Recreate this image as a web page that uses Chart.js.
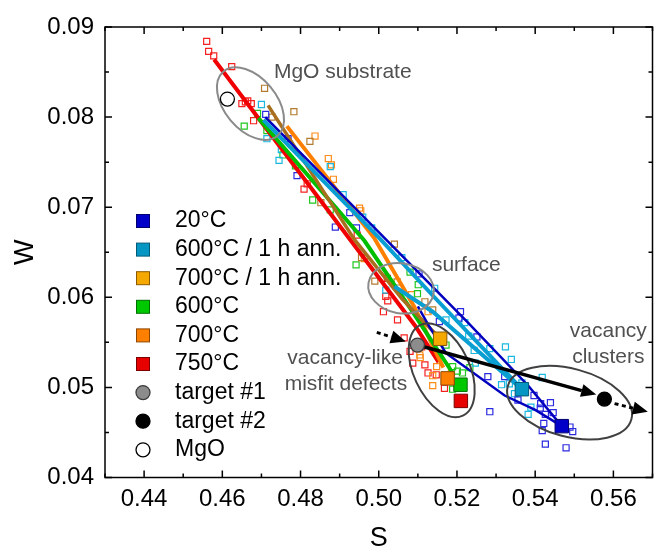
<!DOCTYPE html>
<html>
<head>
<meta charset="utf-8">
<script src="https://cdn.jsdelivr.net/npm/chart.js@4.4.1/dist/chart.umd.min.js"></script>
<style>
    body { margin: 0; background: #fff; }
    #wrap { width: 663px; height: 552px; }
</style>
</head>
<body>
<div id="wrap"><canvas id="swChart" width="663" height="552"></canvas></div>
<script>
// series names (legend order)
var seriesNames = ['20°C', '600°C / 1 h ann.', '700°C / 1 h ann.', '600°C', '700°C', '750°C'];

// single measurements, S and W
var pS_20 = [0.4711, 0.4768, 0.4791, 0.4889, 0.4926, 0.4943, 0.5103, 0.5155, 0.5209, 0.5205, 0.5251, 0.5279, 0.5322, 0.5284, 0.5356, 0.5397, 0.5414, 0.5439, 0.5426, 0.5446, 0.5422, 0.5418, 0.5426, 0.5479, 0.5489, 0.5496, 0.5413];
var pW_20 = [0.0803, 0.0776, 0.0735, 0.0678, 0.0694, 0.0677, 0.0626, 0.0573, 0.0584, 0.0577, 0.0556, 0.0512, 0.0512, 0.0473, 0.0486, 0.0491, 0.0482, 0.0483, 0.0470, 0.0472, 0.0460, 0.0452, 0.0437, 0.0433, 0.0456, 0.0451, 0.0477];

var pS_600a = [0.4700, 0.4714, 0.4745, 0.4751, 0.4876, 0.4909, 0.4959, 0.4982, 0.5018, 0.5059, 0.5143, 0.5172, 0.5220, 0.5230, 0.5244, 0.5247, 0.5284, 0.5324, 0.5339, 0.5314, 0.5334, 0.5347, 0.5366, 0.5382, 0.5389, 0.5418];
var pW_600a = [0.0814, 0.0776, 0.0752, 0.0764, 0.0745, 0.0714, 0.0689, 0.0677, 0.0608, 0.0644, 0.0610, 0.0575, 0.0572, 0.0557, 0.0541, 0.0527, 0.0543, 0.0545, 0.0531, 0.0503, 0.0504, 0.0493, 0.0505, 0.0470, 0.0478, 0.0511];

var pS_700a = [0.4708, 0.4727, 0.4783, 0.4824, 0.4852, 0.4956, 0.4990, 0.5040, 0.5047, 0.5118, 0.5138];
var pW_700a = [0.0832, 0.0800, 0.0806, 0.0773, 0.0705, 0.0644, 0.0618, 0.0659, 0.0617, 0.0595, 0.0586];

var pS_600 = [0.4656, 0.4690, 0.4714, 0.4755, 0.4787, 0.4831, 0.4876, 0.4942, 0.5080, 0.5101, 0.5099, 0.5172, 0.5189, 0.5201, 0.5214, 0.5233, 0.5189];
var pW_600 = [0.0790, 0.0804, 0.0785, 0.0758, 0.0746, 0.0708, 0.0697, 0.0636, 0.0628, 0.0614, 0.0604, 0.0547, 0.0523, 0.0518, 0.0516, 0.0522, 0.0498];

var pS_700 = [0.4837, 0.4871, 0.4879, 0.4884, 0.4951, 0.4954, 0.4963, 0.5084, 0.5126, 0.5101, 0.5106, 0.5138, 0.5138, 0.5148, 0.5186, 0.5105];
var pW_700 = [0.0779, 0.0754, 0.0747, 0.0731, 0.0699, 0.0696, 0.0643, 0.0603, 0.0584, 0.0543, 0.0533, 0.0513, 0.0502, 0.0523, 0.0516, 0.0536];

var pS_750 = [0.4560, 0.4565, 0.4578, 0.4624, 0.4650, 0.4659, 0.4665, 0.4674, 0.4680, 0.4809, 0.4817, 0.4945, 0.5022, 0.5018, 0.5023, 0.5012, 0.5048, 0.5065, 0.5080, 0.5087, 0.5118, 0.5126, 0.5147, 0.5168, 0.5110];
var pW_750 = [0.0884, 0.0873, 0.0868, 0.0856, 0.0815, 0.0817, 0.0818, 0.0815, 0.0796, 0.0720, 0.0726, 0.0669, 0.0621, 0.0601, 0.0596, 0.0584, 0.0575, 0.0555, 0.0540, 0.0527, 0.0525, 0.0516, 0.0514, 0.0499, 0.0545];

// trend curves (null = break between two branches)
var fS_20 = [0.4710, 0.5230, 0.5384, 0.5468, null, 0.5100, 0.5130, 0.5172, 0.5322, 0.5400, 0.5468];
var fW_20 = [0.0800, 0.0571, 0.0501, 0.0457, null, 0.0590, 0.0567, 0.0538, 0.0491, 0.0475, 0.0457];
var fS_600a = [0.4705, 0.5001, 0.5138, 0.5366, null, 0.5040, 0.5138, 0.5366];
var fW_600a = [0.0797, 0.0666, 0.0602, 0.0498, null, 0.0612, 0.0584, 0.0498];
var fS_700a = [0.4717, 0.4938, 0.5060, 0.5157];
var fW_700a = [0.0813, 0.0664, 0.0598, 0.0554];
var fS_600 = [0.4692, 0.4963, 0.5085, 0.5189];
var fW_600 = [0.0799, 0.0663, 0.0585, 0.0516];
var fS_700 = [0.4765, 0.4988, 0.5090, 0.5165];
var fW_700 = [0.0790, 0.0666, 0.0590, 0.0522];
var fS_750 = [0.4579, 0.5092, 0.5153];
var fW_750 = [0.0864, 0.0569, 0.0528];

// bulk values (big squares), same order as seriesNames
var bulkS = [0.5468, 0.5366, 0.5157, 0.5209, 0.5176, 0.5210];
var bulkW = [0.0457, 0.0498, 0.0554, 0.0503, 0.0510, 0.0485];

// target #1, target #2, MgO
var markNames = ['target #1', 'target #2', 'MgO'];
var markS = [0.5099, 0.5577, 0.4613];
var markW = [0.0547, 0.0487, 0.0820];

var xTicks = [0.44, 0.46, 0.48, 0.50, 0.52, 0.54, 0.56];
var yTicks = [0.04, 0.05, 0.06, 0.07, 0.08, 0.09];

var fillColors = ['#0000c8', '#0596c3', '#f5a800', '#00c800', '#ff8000', '#e60000'];
var edgeColors = ['#00006e', '#035a78', '#8c5a00', '#006e00', '#8c4600', '#7a0000'];
var pointColors = ['#2a2ae0', '#1ab8e0', '#b47a2e', '#1ec81e', '#ff8c1a', '#f52020'];
var lineColors = ['#0000be', '#0a9fd2', '#a8701e', '#00be00', '#ff8000', '#f00000'];
var lineWidths = [2.5, 4, 3.5, 4, 4, 4];
var markFill = ['#8c8c8c', '#000000', '#ffffff'];
var markEdge = ['#3c3c3c', '#000000', '#000000'];

var FONT = '"Liberation Sans", Arial, sans-serif';

function toPts(sv, wv) {
    return sv.map(function (s, i) {
        return s === null ? { x: null, y: null } : { x: s, y: wv[i] };
    });
}

var ptS = [pS_20, pS_600a, pS_700a, pS_600, pS_700, pS_750];
var ptW = [pW_20, pW_600a, pW_700a, pW_600, pW_700, pW_750];
var fitS = [fS_20, fS_600a, fS_700a, fS_600, fS_700, fS_750];
var fitW = [fW_20, fW_600a, fW_700a, fW_600, fW_700, fW_750];

var datasets = [];
datasets.push({
    label: 'bulk', data: toPts(bulkS, bulkW), pointStyle: 'rect', pointRadius: 9.5,
    backgroundColor: fillColors, borderColor: edgeColors, borderWidth: 1, order: 0, onTop: true
});
datasets.push({
    label: 'targets', data: toPts(markS, markW), pointStyle: 'circle', pointRadius: 7,
    backgroundColor: markFill, borderColor: markEdge, borderWidth: 1.3, order: 0, onTop: true
});
for (var i = 0; i < seriesNames.length; i++) {
    datasets.push({
        label: seriesNames[i] + ' fit', data: toPts(fitS[i], fitW[i]), showLine: true,
        pointRadius: 0, borderColor: lineColors[i], borderWidth: lineWidths[i], fill: false, order: 1
    });
    datasets.push({
        label: seriesNames[i], data: toPts(ptS[i], ptW[i]), pointStyle: 'rect', pointRadius: 4.3,
        backgroundColor: 'rgba(255,255,255,0)', borderColor: pointColors[i], borderWidth: 1.2, order: 2
    });
}

// ellipses around regions (centre in data units, radii in px, tilt in degrees)
var rings = [
    { s: 0.4672, w: 0.0815, rx: 42, ry: 26, rot: 50, color: '#8a8a8a' },
    { s: 0.5057, w: 0.0610, rx: 33, ry: 25, rot: 10, color: '#8a8a8a' },
    { s: 0.5161, w: 0.0519, rx: 50, ry: 28, rot: 65, color: '#404040' },
    { s: 0.5488, w: 0.0483, rx: 64, ry: 34, rot: 15, color: '#404040' }
];
var arrows = [
    { from: [0.4995, 0.0561], to: [0.5069, 0.0551], dash: [4, 3.5], width: 3 },
    { from: [0.5099, 0.0547], to: [0.5556, 0.0492], dash: [], width: 3.5 },
    { from: [0.5603, 0.0482], to: [0.5688, 0.0473], dash: [4, 3.5], width: 3 }
];
var notes = [
    { text: 'MgO substrate', s: 0.4908, w: 0.0850 },
    { text: 'surface', s: 0.5224, w: 0.0636 },
    { text: 'vacancy-like', s: 0.4914, w: 0.0532 },
    { text: 'misfit defects', s: 0.4916, w: 0.0504 },
    { text: 'vacancy', s: 0.5587, w: 0.0562 },
    { text: 'clusters', s: 0.5587, w: 0.0533 }
];

function drawArrow(ctx, x1, y1, x2, y2, dash, width) {
    var ang = Math.atan2(y2 - y1, x2 - x1);
    var head = 15, half = 6.5;
    var bx = x2 - head * Math.cos(ang), by = y2 - head * Math.sin(ang);
    ctx.lineWidth = width;
    ctx.setLineDash(dash);
    ctx.beginPath();
    ctx.moveTo(x1, y1);
    ctx.lineTo(bx, by);
    ctx.stroke();
    ctx.setLineDash([]);
    ctx.beginPath();
    ctx.moveTo(x2, y2);
    ctx.lineTo(bx + half * Math.sin(ang), by - half * Math.cos(ang));
    ctx.lineTo(bx - half * Math.sin(ang), by + half * Math.cos(ang));
    ctx.closePath();
    ctx.fill();
}

function drawOverlays(chart) {
    var ctx = chart.ctx, xs = chart.scales.x, ys = chart.scales.y;
    ctx.save();
    rings.forEach(function (r) {
        ctx.strokeStyle = r.color;
        ctx.lineWidth = 2;
        ctx.beginPath();
        ctx.ellipse(xs.getPixelForValue(r.s), ys.getPixelForValue(r.w), r.rx, r.ry, r.rot * Math.PI / 180, 0, Math.PI * 2);
        ctx.stroke();
    });
    ctx.strokeStyle = '#000';
    ctx.fillStyle = '#000';
    arrows.forEach(function (a) {
        drawArrow(ctx, xs.getPixelForValue(a.from[0]), ys.getPixelForValue(a.from[1]),
            xs.getPixelForValue(a.to[0]), ys.getPixelForValue(a.to[1]), a.dash, a.width);
    });
    ctx.fillStyle = '#505050';
    ctx.font = '21px ' + FONT;
    ctx.textAlign = 'center';
    ctx.textBaseline = 'middle';
    notes.forEach(function (n) {
        ctx.fillText(n.text, xs.getPixelForValue(n.s), ys.getPixelForValue(n.w));
    });
    ctx.restore();
}

function drawFrame(chart) {
    var ctx = chart.ctx, a = chart.chartArea, xs = chart.scales.x, ys = chart.scales.y;
    ctx.save();
    ctx.strokeStyle = '#000';
    ctx.lineWidth = 1.5;
    ctx.strokeRect(a.left, a.top, a.right - a.left, a.bottom - a.top);
    ctx.beginPath();
    for (var k = 43; k <= 57; k++) {
        var px = xs.getPixelForValue(k / 100), len = k % 2 === 0 ? 7 : 4;
        ctx.moveTo(px, a.bottom); ctx.lineTo(px, a.bottom - len);
        ctx.moveTo(px, a.top); ctx.lineTo(px, a.top + len);
    }
    for (var m = 40; m <= 90; m += 5) {
        var py = ys.getPixelForValue(m / 1000), ln = m % 10 === 0 ? 7 : 4;
        ctx.moveTo(a.left, py); ctx.lineTo(a.left + ln, py);
        ctx.moveTo(a.right, py); ctx.lineTo(a.right - ln, py);
    }
    ctx.stroke();
    ctx.restore();
}

function drawLegend(chart) {
    var ctx = chart.ctx;
    var x0 = 143, tx = 175, y0 = 221, step = 28.6;
    ctx.save();
    ctx.font = '23px ' + FONT;
    ctx.textAlign = 'left';
    ctx.textBaseline = 'middle';
    ctx.lineWidth = 1;
    seriesNames.forEach(function (name, i) {
        var y = y0 + i * step;
        ctx.fillStyle = fillColors[i];
        ctx.strokeStyle = edgeColors[i];
        ctx.fillRect(x0 - 6.5, y - 6.5, 13, 13);
        ctx.strokeRect(x0 - 6.5, y - 6.5, 13, 13);
        ctx.fillStyle = '#000';
        ctx.fillText(name, tx, y);
    });
    markNames.forEach(function (name, j) {
        var y = y0 + (seriesNames.length + j) * step;
        ctx.fillStyle = markFill[j];
        ctx.strokeStyle = markEdge[j];
        ctx.lineWidth = 1.3;
        ctx.beginPath();
        ctx.arc(x0, y, 7, 0, Math.PI * 2);
        ctx.fill();
        ctx.stroke();
        ctx.fillStyle = '#000';
        ctx.fillText(name, tx, y);
    });
    ctx.restore();
}

var overlayPlugin = {
    id: 'overlays',
    beforeDraw: function (chart) { chart.$overlayDone = false; },
    beforeDatasetDraw: function (chart, args) {
        if (chart.$overlayDone || !chart.data.datasets[args.index].onTop) return;
        chart.$overlayDone = true;
        drawOverlays(chart);
    },
    afterDraw: function (chart) {
        drawFrame(chart);
        drawLegend(chart);
    }
};

var ctx = document.getElementById('swChart').getContext('2d');
new Chart(ctx, {
    type: 'scatter',
    data: { datasets: datasets },
    options: {
        responsive: false,
        animation: false,
        events: [],
        layout: { padding: { top: 27, right: 0, bottom: 0, left: 0 } },
        plugins: { legend: { display: false }, tooltip: { enabled: false } },
        scales: {
            x: {
                type: 'linear', min: 0.43, max: 0.57,
                afterBuildTicks: function (ax) { ax.ticks = xTicks.map(function (v) { return { value: v }; }); },
                afterFit: function (ax) { ax.height = 74.5; },
                grid: { display: false, drawTicks: false },
                border: { display: false },
                ticks: {
                    padding: 7, color: '#000', autoSkip: false, maxRotation: 0,
                    font: { family: FONT, size: 24 },
                    callback: function (v) { return v.toFixed(2); }
                },
                title: { display: true, text: 'S', color: '#000', font: { family: FONT, size: 27 }, padding: { top: 0, bottom: -3 } }
            },
            y: {
                type: 'linear', min: 0.04, max: 0.09,
                afterBuildTicks: function (ax) { ax.ticks = yTicks.map(function (v) { return { value: v }; }); },
                afterFit: function (ax) { ax.width = 105; },
                grid: { display: false, drawTicks: false },
                border: { display: false },
                ticks: {
                    padding: 11, color: '#000', autoSkip: false,
                    font: { family: FONT, size: 24 },
                    callback: function (v) { return v.toFixed(2); }
                },
                title: { display: true, text: 'W', color: '#000', font: { family: FONT, size: 27 }, padding: { top: 9, bottom: 0 } }
            }
        }
    },
    plugins: [overlayPlugin]
});
</script>
</body>
</html>
